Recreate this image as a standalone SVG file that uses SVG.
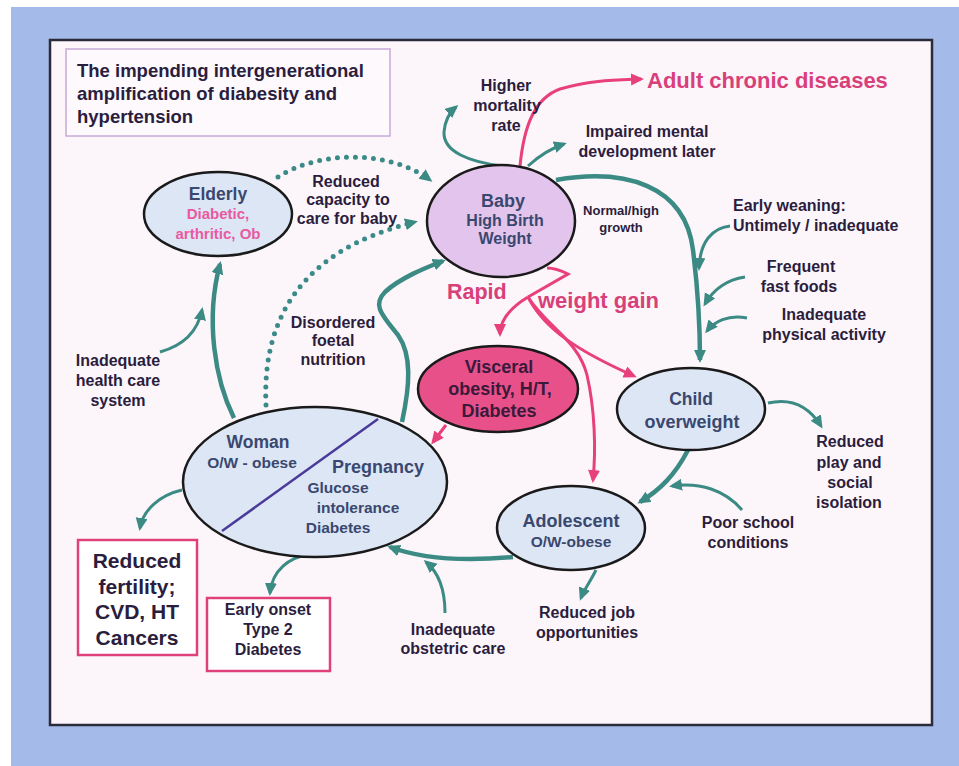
<svg xmlns="http://www.w3.org/2000/svg" width="959" height="766" viewBox="0 0 959 766">
<defs>
<style>
.t{font-family:"Liberation Sans",Arial,sans-serif;font-weight:bold}
.lbl{fill:#2b1d3d;font-size:16px;text-anchor:middle}
.big{font-size:21px}
.sm{font-size:13px}
.nd{fill:#3a4870;text-anchor:middle}
.pk{fill:#d8407a}
.ell{stroke:#1a1a1a;stroke-width:2.5}
.tl{fill:none;stroke:#3b8a84;stroke-width:4.5;marker-end:url(#ah)}
.tls{fill:none;stroke:#3b8a84;stroke-width:3;marker-end:url(#ah)}
.dot{fill:none;stroke:#3b8a88;stroke-width:5;stroke-linecap:round;stroke-dasharray:0 9;marker-end:url(#ah)}
.pl{fill:none;stroke:#e8407a;stroke-width:3;marker-end:url(#ahp)}
.pln{fill:none;stroke:#e8407a;stroke-width:3}
.box{fill:#ffffff;stroke:#e0407a;stroke-width:2.5}
</style>
<marker id="ah" markerUnits="userSpaceOnUse" markerWidth="16" markerHeight="14" refX="10" refY="6" orient="auto"><path d="M0,0 L13,6 L0,12 Z" fill="#3b8a84"/></marker>
<marker id="ahp" markerUnits="userSpaceOnUse" markerWidth="16" markerHeight="14" refX="10" refY="6" orient="auto"><path d="M0,0 L13,6 L0,12 Z" fill="#e8407a"/></marker>
</defs>
<rect x="0" y="0" width="959" height="766" fill="#ffffff"/>
<rect x="11" y="7" width="948" height="759" fill="#a4bbea"/>
<rect x="50" y="40" width="882" height="685" fill="#fcf6fb" stroke="#2a2a3a" stroke-width="2.5"/>

<g id="title">
<rect x="66" y="49" width="324" height="87" fill="#fdf9fd" stroke="#c8a8d8" stroke-width="1.5"/>
<text class="t" x="77" y="77" font-size="18.5" fill="#2b1d3d">The impending intergenerational</text>
<text class="t" x="77" y="100" font-size="18.5" fill="#2b1d3d">amplification of diabesity and</text>
<text class="t" x="77" y="123" font-size="18.5" fill="#2b1d3d">hypertension</text>
</g>

<g id="connectors">
<path class="dot" d="M278,177 C320,150 390,150 430,180"/>
<path class="dot" d="M266,405 C262,320 300,250 415,222"/>
<path class="tl" d="M234,418 C215,380 205,320 220,264"/>
<path class="tls" d="M160,352 C185,345 198,330 202,310"/>
<path class="tl" d="M402,422 C410,385 412,355 398,335 C382,315 372,305 385,292 C400,278 425,268 443,261"/>
<path class="tls" d="M502,166 C470,162 443,152 444,132 C445,120 450,112 456,107"/>
<path class="tls" d="M528,166 C540,155 552,148 564,144"/>
<path class="pl" d="M520,166 C524,125 535,98 560,89 C590,80 615,80 641,79"/>
<path class="tl" d="M556,180 C625,168 685,185 693,250 C698,290 700,330 700,360"/>
<path class="tls" d="M730,226 C712,228 700,242 699,268"/>
<path class="tls" d="M745,277 C725,280 712,292 705,304"/>
<path class="tls" d="M747,318 C728,314 714,322 707,331"/>
<path class="pln" d="M547,268 C555,268 562,271 568,274 L528,297"/>
<path class="pl" d="M528,297 C510,308 500,320 500,334"/>
<path class="pl" d="M528,297 C545,330 580,352 634,376"/>
<path class="pl" d="M528,297 C548,328 578,340 587,375 C595,410 596,450 593,480"/>
<path class="pl" d="M446,425 L433,442"/>
<path class="tls" d="M768,403 C790,398 808,405 821,426"/>
<path class="tl" d="M688,450 C675,475 660,490 640,502"/>
<path class="tls" d="M742,510 C725,490 700,482 672,486"/>
<path class="tls" d="M596,570 C590,582 584,590 581,598"/>
<path class="tl" d="M513,557 C480,560 430,562 390,547"/>
<path class="tls" d="M445,613 C445,590 438,572 426,562"/>
<path class="tls" d="M308,555 C290,557 272,570 270,593"/>
<path class="tls" d="M182,490 C160,495 143,510 140,528"/>
</g>

<g id="elderly">
<ellipse class="ell" cx="218" cy="214" rx="74" ry="42" fill="#dde6f4"/>
<text class="t nd" x="218" y="200" font-size="17.5">Elderly</text>
<text class="t" x="218" y="219" font-size="15" fill="#e85aa0" text-anchor="middle">Diabetic,</text>
<text class="t" x="218" y="239" font-size="15" fill="#e85aa0" text-anchor="middle">arthritic, Ob</text>
</g>

<g id="baby">
<ellipse class="ell" cx="501" cy="221" rx="74" ry="56" fill="#e3c4ec"/>
<text class="t nd" x="503" y="207" font-size="18">Baby</text>
<text class="t nd" x="505" y="226" font-size="16">High Birth</text>
<text class="t nd" x="505" y="244" font-size="16">Weight</text>
</g>

<g id="visceral">
<ellipse class="ell" cx="498" cy="389" rx="80" ry="43" fill="#e8508a"/>
<text class="t" x="499" y="373" font-size="18" fill="#3a1a3a" text-anchor="middle">Visceral</text>
<text class="t" x="500" y="395" font-size="18" fill="#3a1a3a" text-anchor="middle">obesity, H/T,</text>
<text class="t" x="499" y="417" font-size="18" fill="#3a1a3a" text-anchor="middle">Diabetes</text>
</g>

<g id="woman">
<ellipse class="ell" cx="315" cy="482" rx="132" ry="75" fill="#dde6f4"/>
<line x1="378" y1="419" x2="222" y2="531" stroke="#4a3a9a" stroke-width="2.5"/>
<text class="t nd" x="258" y="448" font-size="17.5">Woman</text>
<text class="t nd" x="252" y="468" font-size="15.5">O/W - obese</text>
<text class="t nd" x="378" y="473" font-size="18">Pregnancy</text>
<text class="t nd" x="338" y="493" font-size="15.5">Glucose</text>
<text class="t nd" x="358" y="513" font-size="15.5">intolerance</text>
<text class="t nd" x="338" y="533" font-size="15.5">Diabetes</text>
</g>

<g id="child">
<ellipse class="ell" cx="691" cy="409" rx="74" ry="41" fill="#dde6f4"/>
<text class="t nd" x="691" y="405" font-size="17.5">Child</text>
<text class="t nd" x="692" y="428" font-size="18">overweight</text>
</g>

<g id="adolescent">
<ellipse class="ell" cx="571" cy="528" rx="74" ry="42" fill="#dde6f4"/>
<text class="t nd" x="571" y="527" font-size="18">Adolescent</text>
<text class="t nd" x="571" y="547" font-size="15.5">O/W-obese</text>
</g>

<g id="fertility">
<rect class="box" x="78" y="540" width="119" height="115"/>
<text class="t lbl big" x="137" y="568">Reduced</text>
<text class="t lbl big" x="137" y="594">fertility;</text>
<text class="t lbl big" x="137" y="619">CVD, HT</text>
<text class="t lbl big" x="137" y="645">Cancers</text>
</g>

<g id="earlyonset">
<rect class="box" x="207" y="598" width="123" height="73"/>
<text class="t lbl" x="268" y="615">Early onset</text>
<text class="t lbl" x="268" y="635">Type 2</text>
<text class="t lbl" x="268" y="655">Diabetes</text>
</g>

<g id="labels">
<text class="t lbl" x="346" y="187">Reduced</text>
<text class="t lbl" x="348" y="205">capacity to</text>
<text class="t lbl" x="347" y="224">care for baby</text>
<text class="t lbl" x="506" y="91">Higher</text>
<text class="t lbl" x="507" y="111">mortality</text>
<text class="t lbl" x="506" y="131">rate</text>
<text class="t" x="647" y="88" font-size="22" fill="#d8407a">Adult chronic diseases</text>
<text class="t lbl" x="647" y="137">Impaired mental</text>
<text class="t lbl" x="647" y="157">development later</text>
<text class="t lbl sm" x="621" y="215">Normal/high</text>
<text class="t lbl sm" x="621" y="232">growth</text>
<text class="t" x="733" y="211" font-size="16" fill="#2b1d3d">Early weaning:</text>
<text class="t" x="733" y="231" font-size="16" fill="#2b1d3d">Untimely / inadequate</text>
<text class="t lbl" x="801" y="272">Frequent</text>
<text class="t lbl" x="799" y="292">fast foods</text>
<text class="t lbl" x="824" y="320">Inadequate</text>
<text class="t lbl" x="824" y="340">physical activity</text>
<text class="t pk" x="447" y="299" font-size="21.5">Rapid</text>
<text class="t pk" x="538" y="308" font-size="22">weight gain</text>
<text class="t lbl" x="333" y="328">Disordered</text>
<text class="t lbl" x="333" y="346">foetal</text>
<text class="t lbl" x="333" y="365">nutrition</text>
<text class="t lbl" x="118" y="366">Inadequate</text>
<text class="t lbl" x="118" y="386">health care</text>
<text class="t lbl" x="118" y="406">system</text>
<text class="t lbl" x="850" y="447">Reduced</text>
<text class="t lbl" x="849" y="468">play and</text>
<text class="t lbl" x="850" y="488">social</text>
<text class="t lbl" x="849" y="508">isolation</text>
<text class="t lbl" x="748" y="528">Poor school</text>
<text class="t lbl" x="748" y="548">conditions</text>
<text class="t lbl" x="587" y="618">Reduced job</text>
<text class="t lbl" x="587" y="638">opportunities</text>
<text class="t lbl" x="453" y="635">Inadequate</text>
<text class="t lbl" x="453" y="654">obstetric care</text>
</g>
</svg>
